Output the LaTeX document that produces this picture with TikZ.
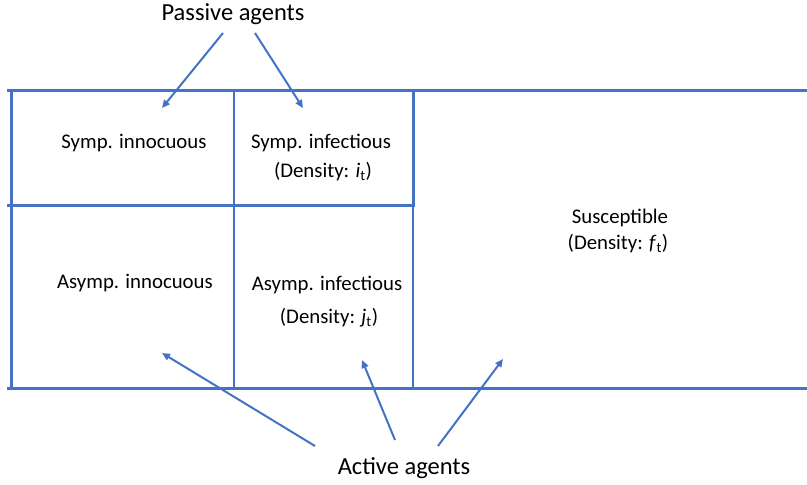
\documentclass[tikz,border=0pt]{standalone}
\usepackage{fontspec}
\setmainfont{Carlito}
\usetikzlibrary{arrows.meta}
\definecolor{officeblue}{HTML}{4472C4}
\begin{document}
\begin{tikzpicture}[x=1pt,y=-1pt,
 thickline/.style={draw=officeblue,line width=3pt},
 thinline/.style={draw=officeblue,line width=1.3pt},
 agentarrow/.style={draw=officeblue,line width=2pt,-{Triangle[length=8pt,width=7pt]}},
 cell/.style={font=\fontsize{20.8}{25}\selectfont,anchor=base,inner sep=0pt},
 big/.style={font=\fontsize{24.5}{29}\selectfont,anchor=base,inner sep=0pt}]
\useasboundingbox (0,0) rectangle (807,485);
% grid
\draw[thinline] (234,90) -- (234,388);
\draw[thinline] (413,205) -- (413,390);
\draw[thickline] (7,90) -- (807,90);
\draw[thickline] (11,90) -- (11,388);
\draw[thickline] (7,205) -- (415,205);
\draw[thickline] (413,90) -- (413,205);
\draw[thickline] (7,388) -- (807,388);
% texts
\node[cell] (si) at (134,148) {Symp. innocuous};
\node[cell] (sf) at (321,148) {Symp. infectious};
\node[cell] (sfd) at (323,177) {(Density: \textit{i}\textsubscript{t})};
\node[cell] (ai) at (135,288) {Asymp. innocuous};
\node[cell] (af) at (327,290) {Asymp. infectious};
\node[cell] (afd) at (329,323) {(Density: \textit{j}\textsubscript{t})};
\node[cell] (su) at (620,223) {Susceptible};
\node[cell] (sud) at (618,249) {(Density: \textit{f}\textsubscript{t})};
\node[big] (pa) at (233,20) {Passive agents};
\node[big] (aa) at (404,474) {Active agents};
% arrow ends
\coordinate (ps1) at (223,33);
\coordinate (ps2) at (255,33);
\coordinate (pt1) at (162,108);
\coordinate (pt2) at (303,108);
\coordinate (as1) at (315,446);
\coordinate (as2) at (395,440);
\coordinate (as3) at (438,446);
\coordinate (at1) at (162,353);
\coordinate (at2) at (362,360);
\coordinate (at3) at (503,359);
\draw[agentarrow] (ps1) -- (pt1);
\draw[agentarrow] (ps2) -- (pt2);
\draw[agentarrow] (as1) -- (at1);
\draw[agentarrow] (as2) -- (at2);
\draw[agentarrow] (as3) -- (at3);
\end{tikzpicture}
\end{document}
